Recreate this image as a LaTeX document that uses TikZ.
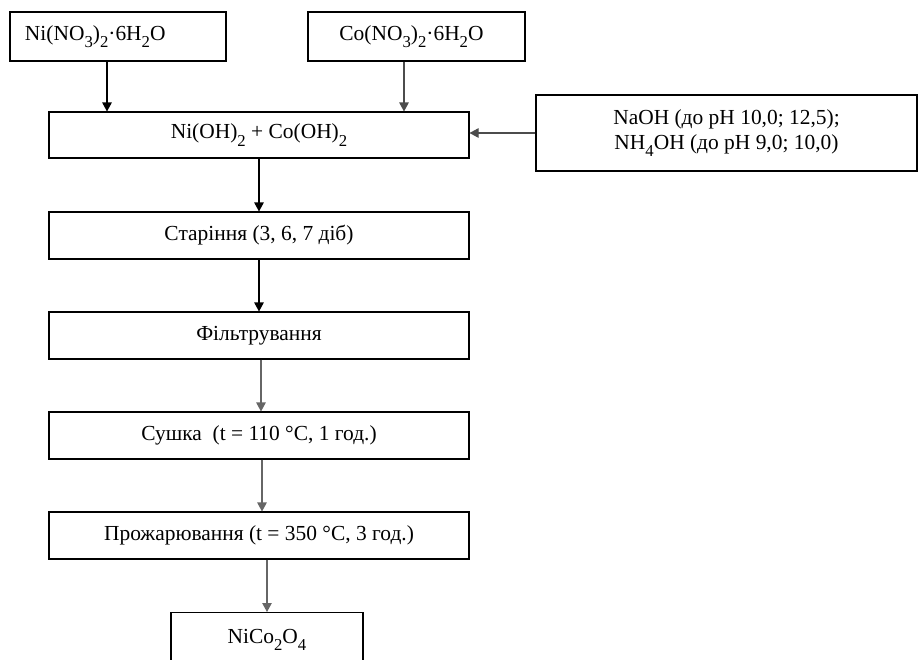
\documentclass[tikz,border=0pt]{standalone}
\usepackage{fontspec}
\setmainfont{Liberation Serif}
\usetikzlibrary{arrows.meta}
\newcommand{\chsub}[1]{\raisebox{-0.75ex}{\fontsize{9.5}{9.5}\selectfont #1}}

\begin{document}
\begin{tikzpicture}[
    box/.style={draw, line width=0.6pt, inner sep=0pt, minimum height=0.94cm, minimum width=8.4cm, font=\fontsize{12.2}{14}\selectfont},
    flow/.style={line width=0.6pt, -{Triangle[length=0.18cm,width=0.19cm]}}
    ]
        \useasboundingbox (0,0) rectangle (18.36,-13.18);
        \clip (0,0) rectangle (18.36,-13.18);
        \node[box, minimum width=4.32cm, minimum height=0.98cm, text width=3.72cm, align=left] (ni) at (2.36,-0.73) {Ni(NO\chsub{3})\chsub{2}·6H\chsub{2}O};
        \node[box, minimum width=4.34cm, minimum height=0.98cm] (co) at (8.33,-0.73) {Co(NO\chsub{3})\chsub{2}·6H\chsub{2}O\hspace*{0.2cm}};
        \node[box, minimum height=0.92cm] (hydr) at (5.18,-2.70) {Ni(OH)\chsub{2} + Co(OH)\chsub{2}};
        \node[box, minimum width=7.62cm, minimum height=1.52cm, align=center] (base) at (14.53,-2.66) {NaOH (до pH 10,0; 12,5);\\NH\chsub{4}OH (до pH 9,0; 10,0)};
        \node[box] (age) at (5.18,-4.71) {Старіння (3, 6, 7 діб)};
        \node[box] (filt) at (5.18,-6.71) {Фільтрування};
        \node[box] (dry) at (5.18,-8.71) {Сушка \ (t = 110 °C, 1 год.)};
        \node[box] (calc) at (5.18,-10.71) {Прожарювання (t = 350 °C, 3 год.)};
        \node[box, minimum width=3.84cm, minimum height=1.2cm, anchor=north] (prod) at (5.34,-12.24) {\raisebox{0.25cm}{NiCo\chsub{2}O\chsub{4}}};
        \draw[flow] ([xshift=-0.22cm]ni.south) -- ([xshift=-0.22cm]ni.south |- hydr.north);
        \draw[flow, black!70] ([xshift=-0.25cm]co.south) -- ([xshift=-0.25cm]co.south |- hydr.north);
        \draw[flow, black!70] (base.west) -- (base.west -| hydr.east);
        \draw[flow] (hydr.south) -- (age.north);
        \draw[flow] (age.south) -- (filt.north);
        \draw[flow, black!60] ([xshift=0.04cm]filt.south) -- ([xshift=0.04cm]dry.north);
        \draw[flow, black!60] ([xshift=0.06cm]dry.south) -- ([xshift=0.06cm]calc.north);
        \draw[flow, black!60] (calc.south -| prod.north) -- (prod.north);
\end{tikzpicture}
\end{document}
